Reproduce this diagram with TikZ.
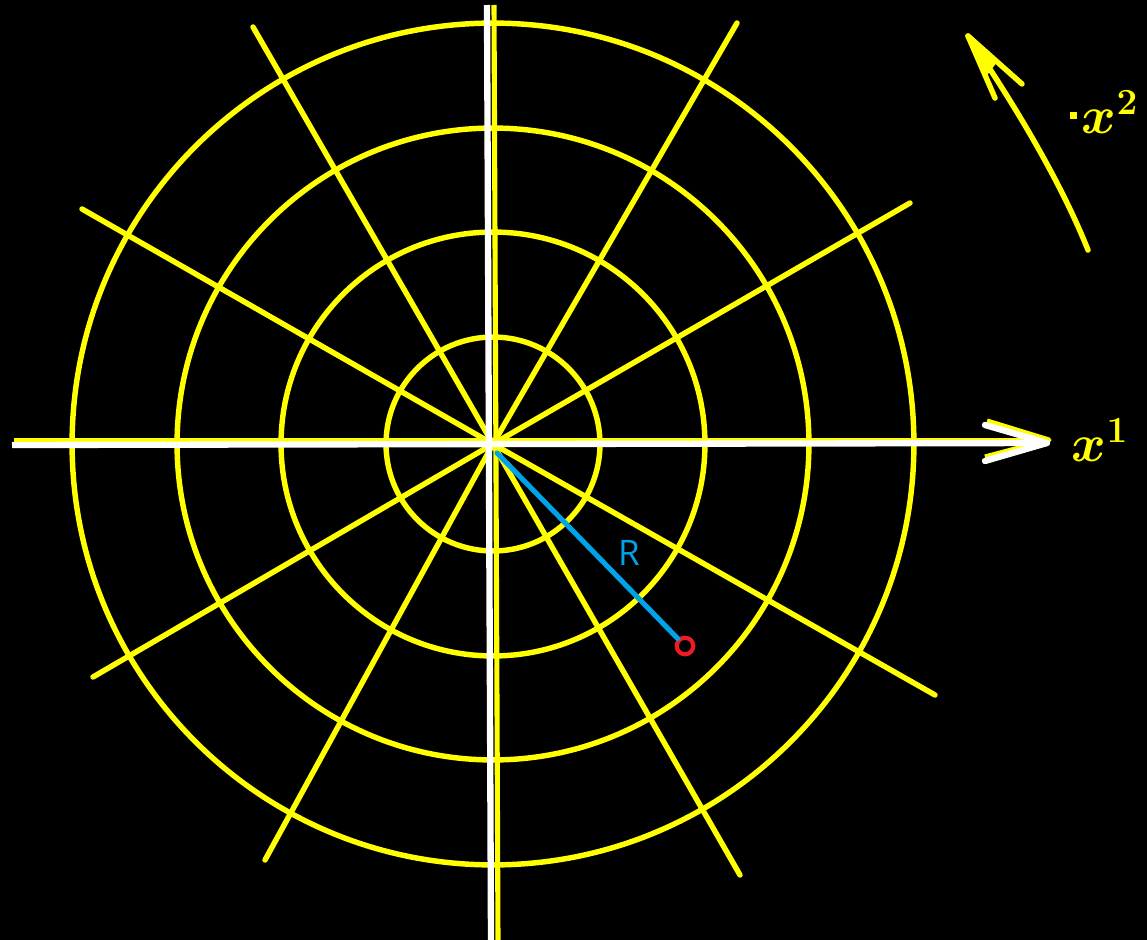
\RequirePackage{fix-cm}
\documentclass[tikz,border=0pt]{standalone}
\usepackage{fontspec}
\newfontfamily\labelfont{Open Sans}
\definecolor{ylw}{HTML}{FFFF00}
\definecolor{rblue}{HTML}{00A2E8}
\definecolor{rred}{HTML}{ED1C24}
\begin{document}
\begin{tikzpicture}[x=0.02cm,y=-0.02cm,
  ring/.style={draw=ylw,line width=3.1pt},
  spoke/.style={draw=ylw,line width=3.1pt,line cap=round},
  axis/.style={draw=white,line width=3.6pt},
  axisy/.style={draw=ylw,line width=2.9pt},
  lbl/.style={text=ylw,inner sep=0pt,font=\fontsize{30}{30}\selectfont\boldmath}]
\fill[black] (0,0) rectangle (1147,940);
\useasboundingbox (0,0) rectangle (1147,940);
\coordinate (O) at (493,444);
% circles
\foreach \r in {2.14cm,4.24cm,6.32cm,8.42cm}
  \draw[ring] (O) circle[radius=\r];
% spokes
\coordinate (s30) at (910,203);
\coordinate (s60) at (737,23);
\coordinate (s120) at (253,27);
\coordinate (s150) at (82,209);
\coordinate (s210) at (93,677);
\coordinate (s240) at (265,860);
\coordinate (s300) at (740,875);
\coordinate (s330) at (935,695);
\foreach \s in {s30,s60,s120,s150,s210,s240,s300,s330}
  \draw[spoke] (O) -- (\s);
% yellow lines under axes
\coordinate (vy1) at (494,5);
\coordinate (vy2) at (498,940);
\coordinate (hy1) at (14,441);
\coordinate (hy2) at (1050,441);
\draw[axisy] (vy1) -- (vy2);
\draw[axisy] (hy1) -- (hy2);
% white axes
\coordinate (vt) at (487,5);
\coordinate (vb) at (491,940);
\coordinate (hl) at (12,445);
\coordinate (tip1) at (1047,443);
\coordinate (b1) at (985,425);
\coordinate (b2) at (985,461);
\coordinate (yb1) at (987,421);
\coordinate (yb2) at (985,457);
\coordinate (ytip) at (1049,440);
\draw[axisy,line join=round] (yb1) -- (ytip) -- (yb2);
\draw[axis] (vt) -- (vb);
\draw[axis] (hl) -- (tip1);
\draw[axis,line join=round,line cap=round] (b1) -- (tip1) -- (b2);
% R segment
\coordinate (rs) at (497,453);
\node[circle,draw=rred,line width=2.4pt,minimum size=0.33cm,inner sep=0pt] (P) at (685,646) {};
\draw[draw=rblue,line width=2.9pt,line cap=round] (rs) -- (P);
\node[text=rblue,font=\labelfont\fontsize{20}{20}\selectfont,inner sep=0pt] (R) at (629,553) {R};
% x1 label
\node[lbl] (x1) at (1100,440) {$x^1$};
% curved arrow for x2
\coordinate (a0) at (1088,250);
\coordinate (atip) at (968,36);
\coordinate (ab1) at (995,98);
\coordinate (ab2) at (1022,84);
\draw[spoke] (a0) .. controls (1058,175) and (1008,95) .. (atip);
\draw[spoke,line join=round] (ab1) -- (atip) -- (ab2);
\fill[ylw] (atip) -- (997,62) -- (985,78) -- cycle;
\node[lbl] (x2) at (1110,112) {$x^2$};
\fill[ylw] (1070,112) rectangle (1077,119);
\end{tikzpicture}
\end{document}
